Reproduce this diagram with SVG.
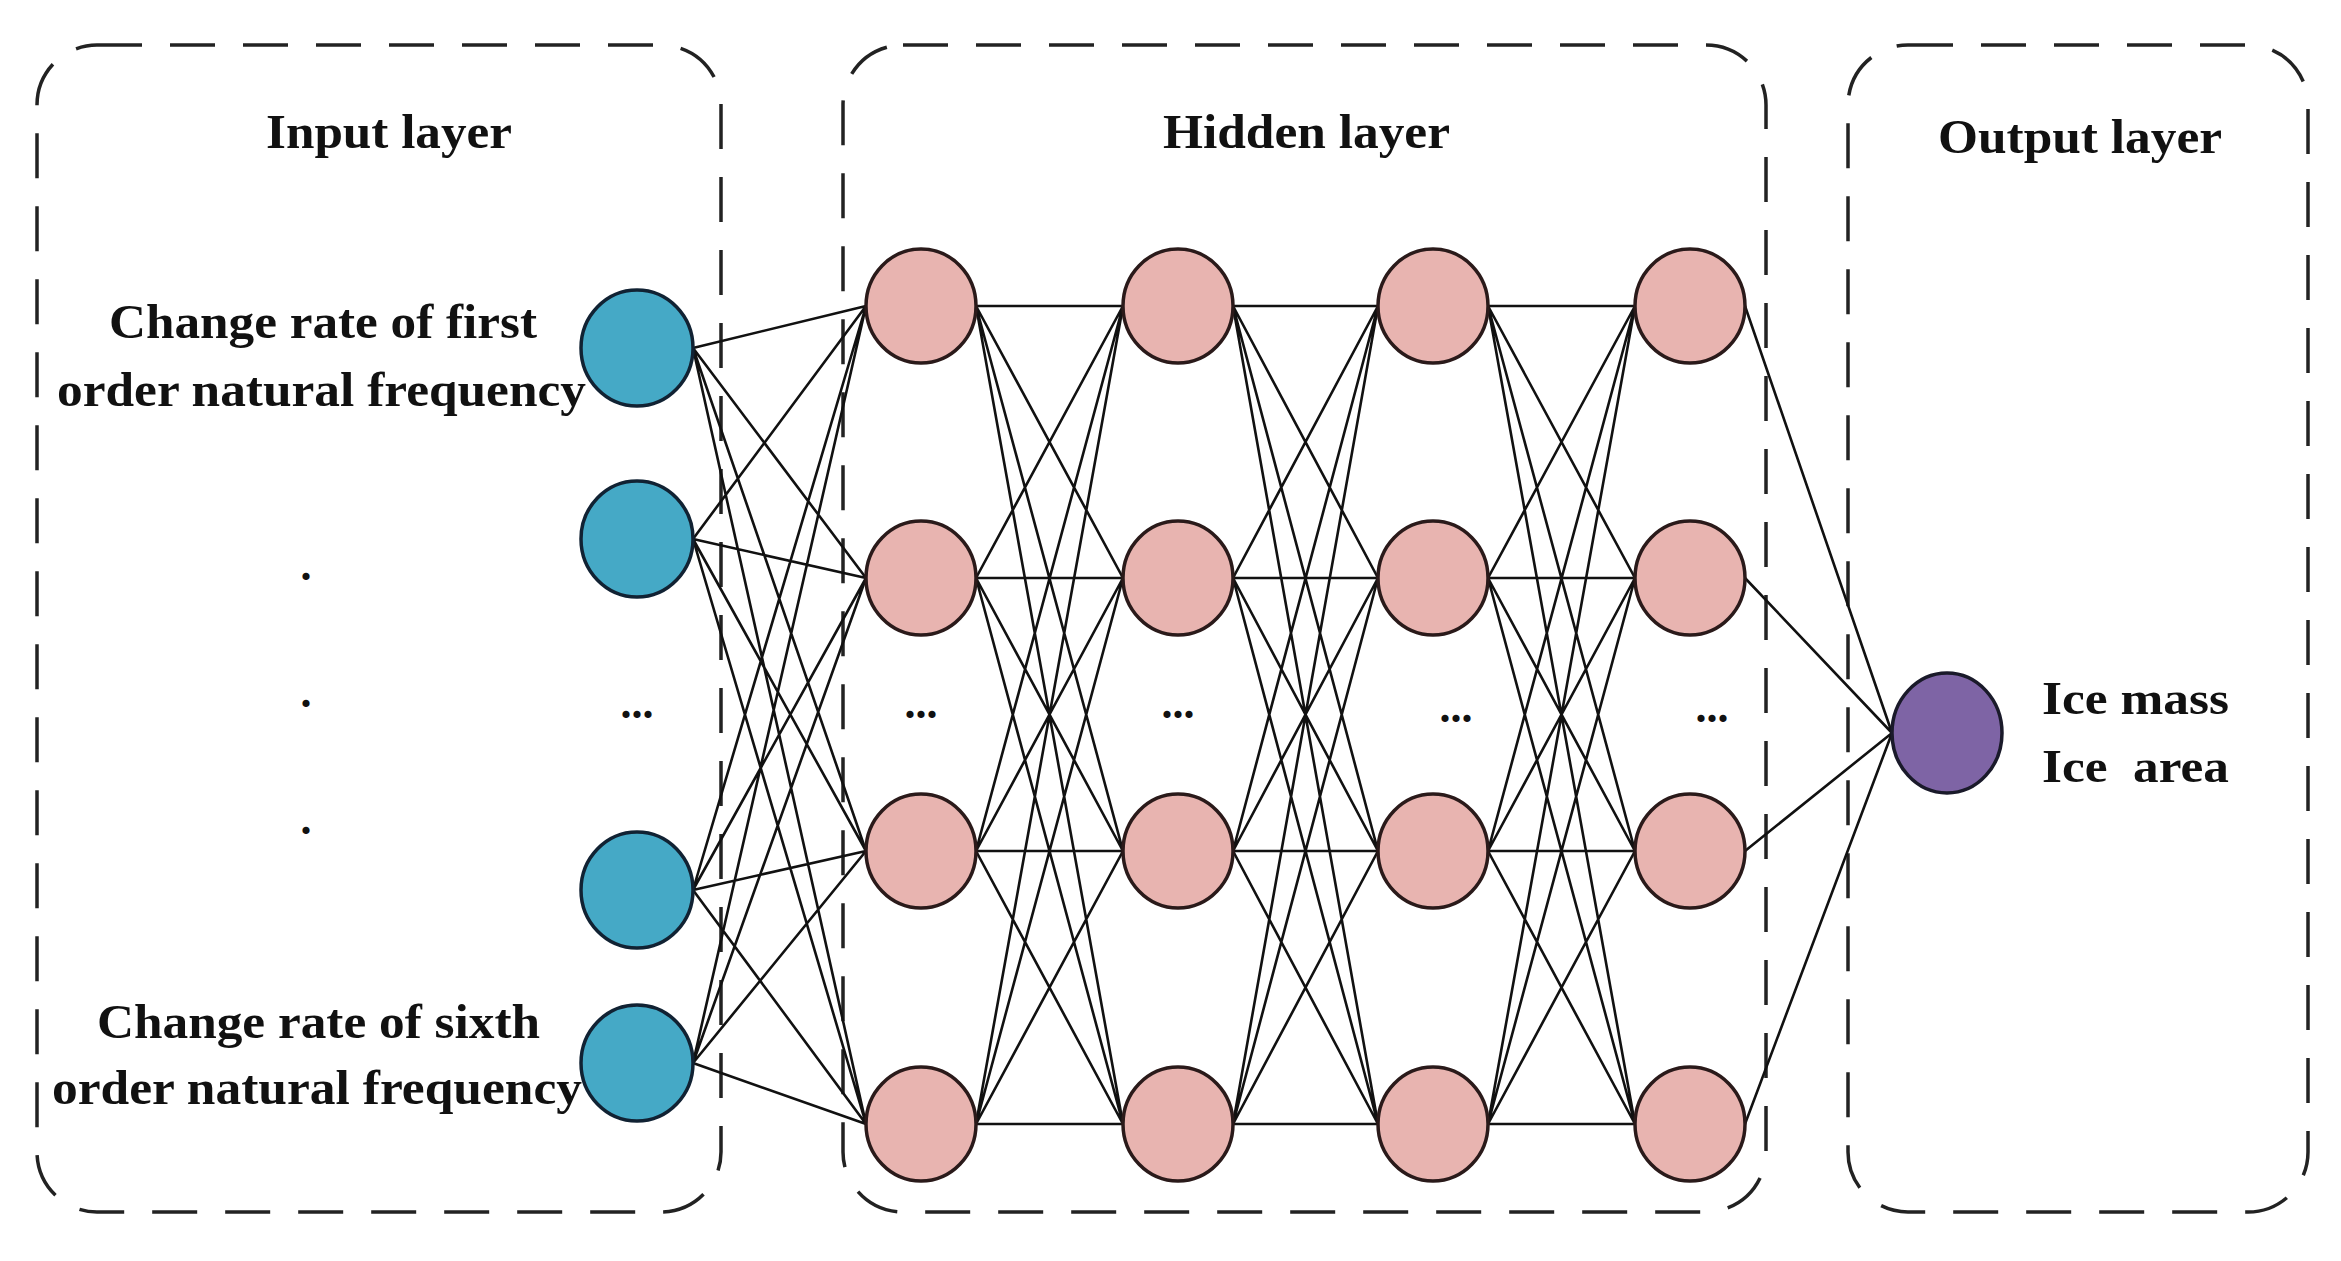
<svg xmlns="http://www.w3.org/2000/svg" width="2341" height="1261" viewBox="0 0 2341 1261">
<style>
.box{fill:none;stroke:#222;stroke-width:3.5;stroke-dasharray:45 28}
.e{stroke:#111;stroke-width:2.6}
.in{fill:#45a9c6;stroke:#123;stroke-width:3.5}
.hd{fill:#e8b4b0;stroke:#2a1a1a;stroke-width:3.5}
.out{fill:#7e64a5;stroke:#1a1a2a;stroke-width:3.5}
.t{font-family:"Liberation Serif",serif;font-weight:bold;fill:#111}
</style>
<rect width="2341" height="1261" fill="#fff"/>
<g id="boxes">
<rect class="box" x="37" y="45" width="684" height="1167" rx="60"/>
<rect class="box" x="843" y="45" width="923" height="1167" rx="60"/>
<rect class="box" x="1848" y="45" width="460" height="1167" rx="60"/>
</g>
<g id="connectors">
<path class="e" d="M693 348L866 306M693 348L866 578M693 348L866 851M693 348L866 1124M693 539L866 306M693 539L866 578M693 539L866 851M693 539L866 1124M693 890L866 306M693 890L866 578M693 890L866 851M693 890L866 1124M693 1063L866 306M693 1063L866 578M693 1063L866 851M693 1063L866 1124"/>
<path class="e" d="M976 306L1123 306M976 306L1123 578M976 306L1123 851M976 306L1123 1124M976 578L1123 306M976 578L1123 578M976 578L1123 851M976 578L1123 1124M976 851L1123 306M976 851L1123 578M976 851L1123 851M976 851L1123 1124M976 1124L1123 306M976 1124L1123 578M976 1124L1123 851M976 1124L1123 1124"/>
<path class="e" d="M1233 306L1378 306M1233 306L1378 578M1233 306L1378 851M1233 306L1378 1124M1233 578L1378 306M1233 578L1378 578M1233 578L1378 851M1233 578L1378 1124M1233 851L1378 306M1233 851L1378 578M1233 851L1378 851M1233 851L1378 1124M1233 1124L1378 306M1233 1124L1378 578M1233 1124L1378 851M1233 1124L1378 1124"/>
<path class="e" d="M1488 306L1635 306M1488 306L1635 578M1488 306L1635 851M1488 306L1635 1124M1488 578L1635 306M1488 578L1635 578M1488 578L1635 851M1488 578L1635 1124M1488 851L1635 306M1488 851L1635 578M1488 851L1635 851M1488 851L1635 1124M1488 1124L1635 306M1488 1124L1635 578M1488 1124L1635 851M1488 1124L1635 1124"/>
<path class="e" d="M1745 306L1892 733M1745 578L1892 733M1745 851L1892 733M1745 1124L1892 733"/>
</g>
<g id="input-nodes">
<ellipse id="in1" class="in" cx="637" cy="348" rx="56" ry="58"/>
<ellipse id="in2" class="in" cx="637" cy="539" rx="56" ry="58"/>
<ellipse id="in3" class="in" cx="637" cy="890" rx="56" ry="58"/>
<ellipse id="in4" class="in" cx="637" cy="1063" rx="56" ry="58"/>
</g>
<g id="hidden-nodes">
<ellipse class="hd" cx="921" cy="306" rx="55" ry="57"/><ellipse class="hd" cx="921" cy="578" rx="55" ry="57"/><ellipse class="hd" cx="921" cy="851" rx="55" ry="57"/><ellipse class="hd" cx="921" cy="1124" rx="55" ry="57"/>
<ellipse class="hd" cx="1178" cy="306" rx="55" ry="57"/><ellipse class="hd" cx="1178" cy="578" rx="55" ry="57"/><ellipse class="hd" cx="1178" cy="851" rx="55" ry="57"/><ellipse class="hd" cx="1178" cy="1124" rx="55" ry="57"/>
<ellipse class="hd" cx="1433" cy="306" rx="55" ry="57"/><ellipse class="hd" cx="1433" cy="578" rx="55" ry="57"/><ellipse class="hd" cx="1433" cy="851" rx="55" ry="57"/><ellipse class="hd" cx="1433" cy="1124" rx="55" ry="57"/>
<ellipse class="hd" cx="1690" cy="306" rx="55" ry="57"/><ellipse class="hd" cx="1690" cy="578" rx="55" ry="57"/><ellipse class="hd" cx="1690" cy="851" rx="55" ry="57"/><ellipse class="hd" cx="1690" cy="1124" rx="55" ry="57"/>
</g>
<g id="output-node">
<ellipse class="out" cx="1947" cy="733" rx="55" ry="60"/>
</g>
<g id="labels" class="t">
<text x="266" y="148" font-size="48" textLength="246" lengthAdjust="spacingAndGlyphs">Input layer</text>
<text x="1163" y="148" font-size="48" textLength="287" lengthAdjust="spacingAndGlyphs">Hidden layer</text>
<text x="1938" y="153" font-size="48" textLength="284" lengthAdjust="spacingAndGlyphs">Output layer</text>
<text x="109" y="338" font-size="48" textLength="428" lengthAdjust="spacingAndGlyphs">Change rate of first</text>
<text x="57" y="406" font-size="48" textLength="529" lengthAdjust="spacingAndGlyphs">order natural frequency</text>
<text x="97" y="1038" font-size="48" textLength="443" lengthAdjust="spacingAndGlyphs">Change rate of sixth</text>
<text x="52" y="1104" font-size="48" textLength="530" lengthAdjust="spacingAndGlyphs">order natural frequency</text>
<text x="2042" y="714" font-size="46" textLength="187" lengthAdjust="spacingAndGlyphs">Ice mass</text>
<text x="2042" y="782" font-size="46" textLength="187" lengthAdjust="spacingAndGlyphs" xml:space="preserve">Ice  area</text>
<text x="637" y="718" font-size="44" text-anchor="middle">...</text>
<text x="921" y="718" font-size="44" text-anchor="middle">...</text>
<text x="1178" y="718" font-size="44" text-anchor="middle">...</text>
<text x="1456" y="722" font-size="44" text-anchor="middle">...</text>
<text x="1712" y="722" font-size="44" text-anchor="middle">...</text>
<text x="306" y="580" font-size="44" text-anchor="middle">.</text>
<text x="306" y="707" font-size="44" text-anchor="middle">.</text>
<text x="306" y="834" font-size="44" text-anchor="middle">.</text>
</g>
</svg>
